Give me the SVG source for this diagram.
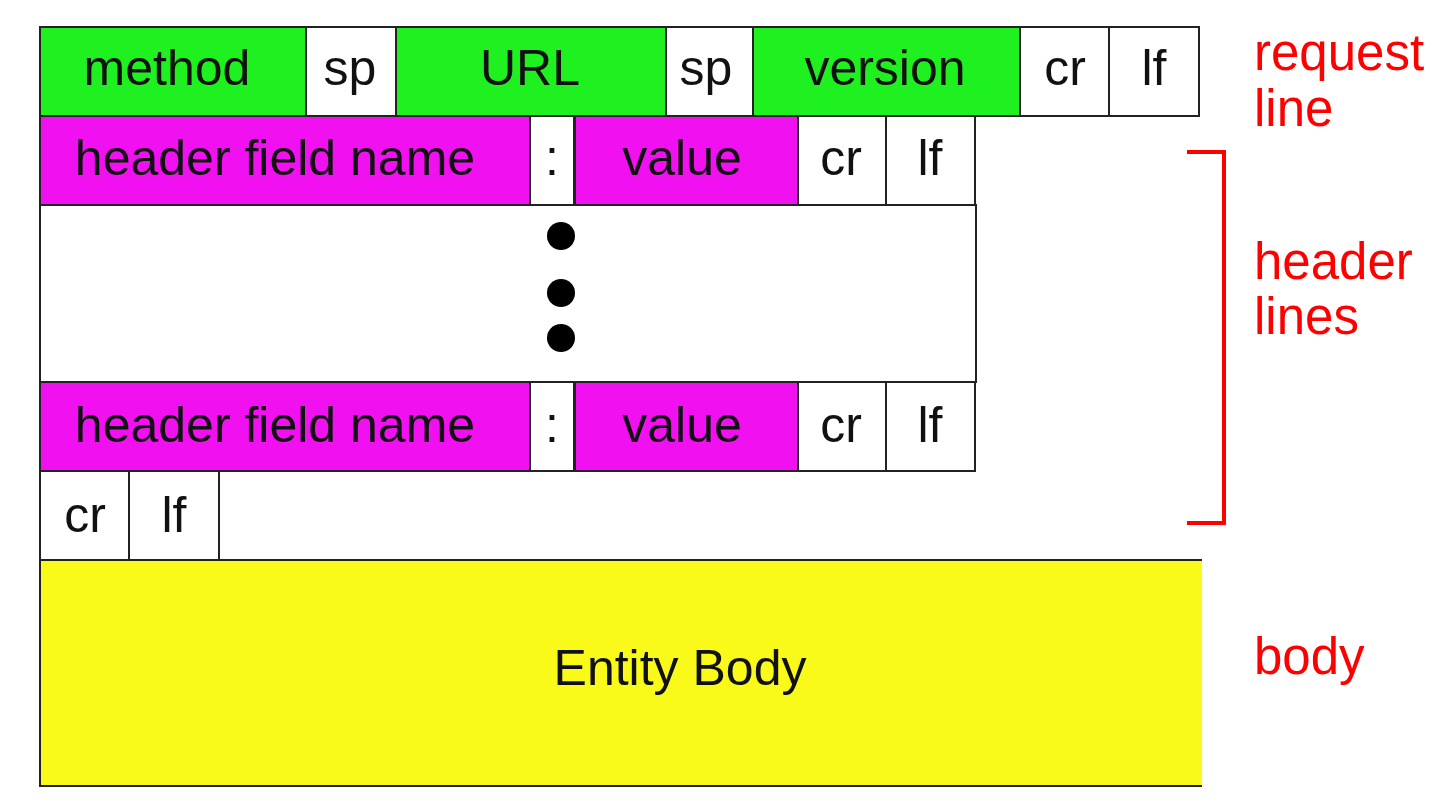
<svg xmlns="http://www.w3.org/2000/svg" width="1436" height="812" viewBox="0 0 1436 812">
<style>
.b{stroke:#222;stroke-width:2}
.g{fill:#1ff01f}
.m{fill:#f010f0}
.w{fill:#fff}
.y{fill:#fafa1a}
.t{font-family:"Liberation Sans",Arial,sans-serif;font-size:50px;fill:#111;text-anchor:middle}
.r{font-family:"Liberation Sans",Arial,sans-serif;font-size:51px;fill:#ff0000}
</style>
<rect width="1436" height="812" fill="#fff"/>
<g id="request-line">
<rect class="b g" x="40" y="27" width="266" height="89"/><text class="t" x="167" y="85">method</text>
<rect class="b w" x="306" y="27" width="90" height="89"/><text class="t" x="350" y="85">sp</text>
<rect class="b g" x="396" y="27" width="270" height="89"/><text class="t" x="530" y="85">URL</text>
<rect class="b w" x="666" y="27" width="87" height="89"/><text class="t" x="706" y="85">sp</text>
<rect class="b g" x="753" y="27" width="267" height="89"/><text class="t" x="885" y="85">version</text>
<rect class="b w" x="1020" y="27" width="89" height="89"/><text class="t" x="1065" y="85">cr</text>
<rect class="b w" x="1109" y="27" width="90" height="89"/><text class="t" x="1154" y="85">lf</text>
</g>
<g id="header-line-1">
<rect class="b m" x="40" y="116" width="490" height="89"/><text class="t" x="275" y="175">header field name</text>
<rect class="b w" x="530" y="116" width="44" height="89"/><text class="t" x="552" y="175">:</text>
<rect class="b m" x="575" y="116" width="223" height="89"/><text class="t" x="682" y="175">value</text>
<rect class="b w" x="798" y="116" width="88" height="89"/><text class="t" x="841" y="175">cr</text>
<rect class="b w" x="886" y="116" width="89" height="89"/><text class="t" x="930" y="175">lf</text>
</g>
<g id="ellipsis">
<rect class="b w" x="40" y="205" width="936" height="177"/>
<circle cx="561" cy="236" r="14" fill="#000"/>
<circle cx="561" cy="293" r="14" fill="#000"/>
<circle cx="561" cy="338" r="14" fill="#000"/>
</g>
<g id="header-line-n">
<rect class="b m" x="40" y="382" width="490" height="89"/><text class="t" x="275" y="442">header field name</text>
<rect class="b w" x="530" y="382" width="44" height="89"/><text class="t" x="552" y="442">:</text>
<rect class="b m" x="575" y="382" width="223" height="89"/><text class="t" x="682" y="442">value</text>
<rect class="b w" x="798" y="382" width="88" height="89"/><text class="t" x="841" y="442">cr</text>
<rect class="b w" x="886" y="382" width="89" height="89"/><text class="t" x="930" y="442">lf</text>
</g>
<g id="blank-line">
<line class="b" x1="40" y1="471" x2="40" y2="560"/>
<rect class="b w" x="40" y="471" width="89" height="89"/><text class="t" x="85" y="532">cr</text>
<rect class="b w" x="129" y="471" width="90" height="89"/><text class="t" x="174" y="532">lf</text>
</g>
<g id="entity-body">
<rect class="y" x="40" y="560" width="1162" height="226"/>
<path class="b" d="M1202 560 H40 V786 H1202" fill="none"/>
<text class="t" x="680" y="685">Entity Body</text>
</g>
<g id="labels">
<text class="r" x="1254" y="70">request</text>
<text class="r" x="1254" y="126">line</text>
<path d="M1187 152 H1224 V523 H1187" fill="none" stroke="#ff0000" stroke-width="4"/>
<text class="r" x="1254" y="279">header</text>
<text class="r" x="1254" y="334">lines</text>
<text class="r" x="1254" y="674">body</text>
</g>
</svg>
